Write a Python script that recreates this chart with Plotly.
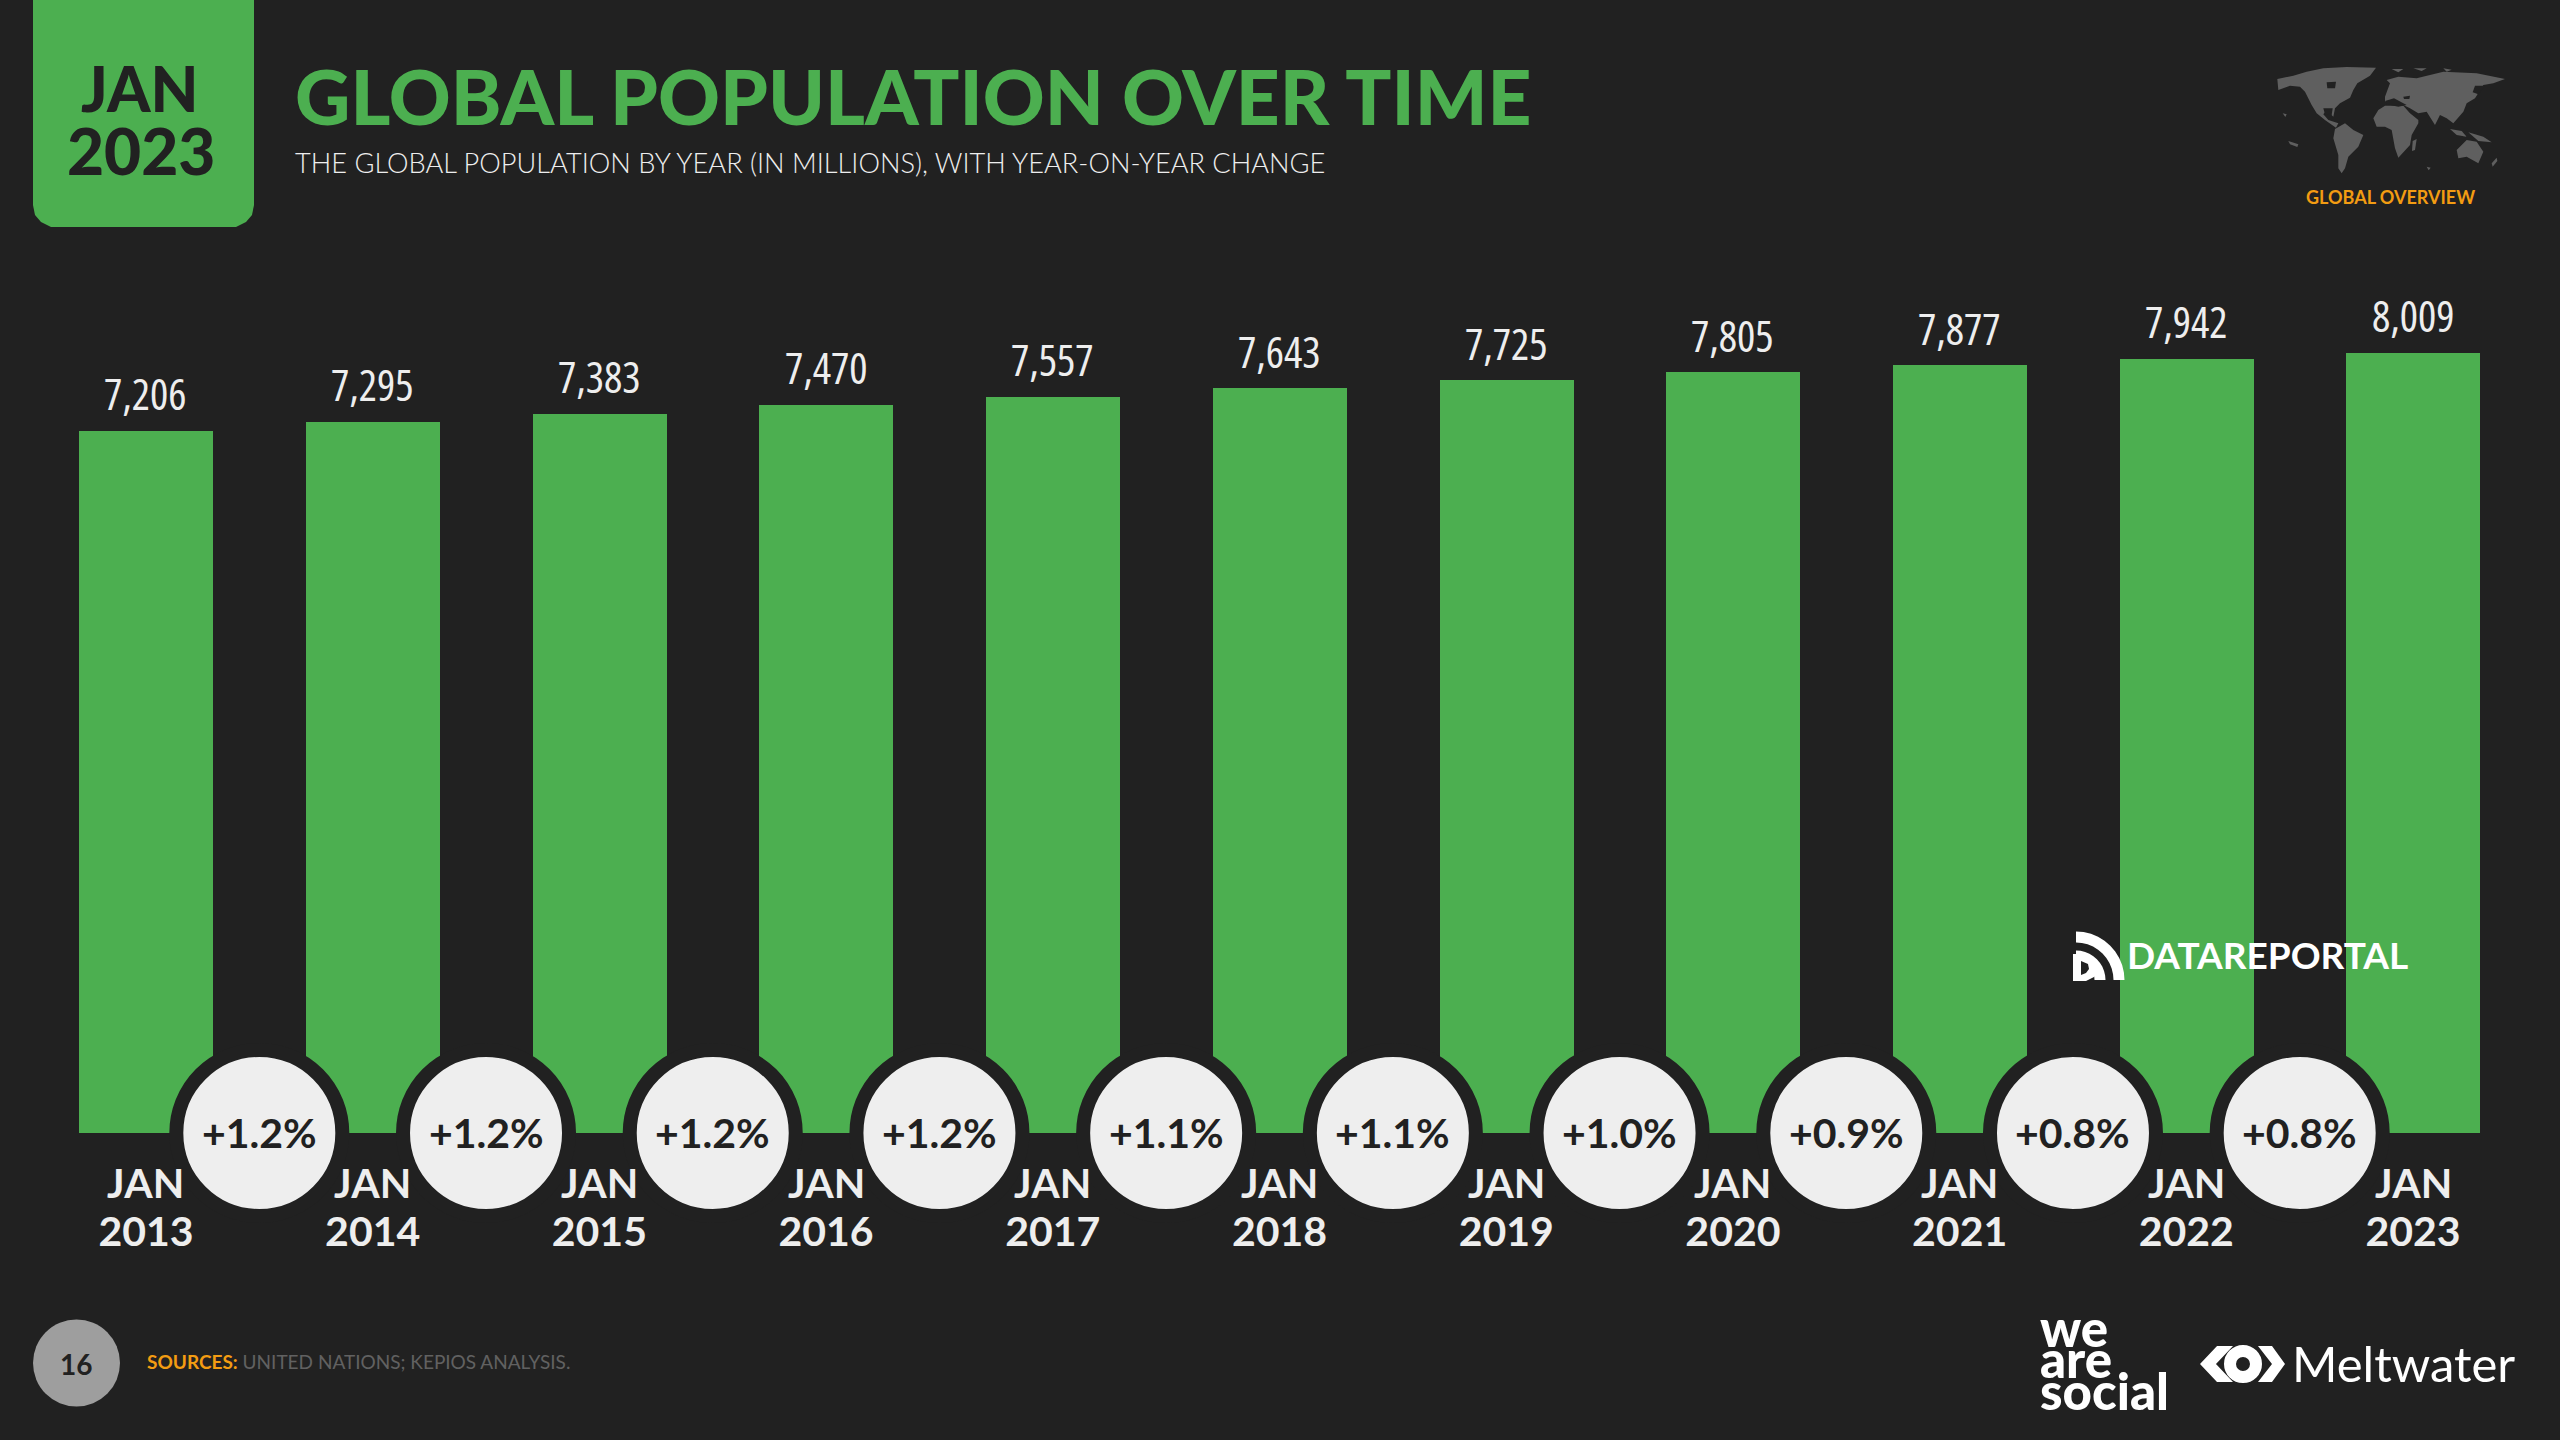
import math
import plotly.graph_objects as go

# Chart data
years = [2013, 2014, 2015, 2016, 2017, 2018, 2019, 2020, 2021, 2022, 2023]
year_labels = ["2013", "2014", "2015", "2016", "2017", "2018", "2019", "2020", "2021", "2022", "2023"]
month_label = "JAN"
population = [7206, 7295, 7383, 7470, 7557, 7643, 7725, 7805, 7877, 7942, 8009]
yoy_change = ["+1.2%", "+1.2%", "+1.2%", "+1.2%", "+1.1%", "+1.1%", "+1.0%", "+0.9%", "+0.8%", "+0.8%"]

W, H = 2560, 1440
BG = "#212121"
GREEN = "#4CAF50"
LIGHT = "#EEEEEE"
ORANGE = "#F39C12"
MAP_GREY = "#5F5F5F"
FONT = "Lato"


def px(x):
    return x / W


def py(y):
    return 1 - y / H


def note(text, x, y, size, color=LIGHT, anchor="left", weight=400, family=FONT):
    return dict(text=text, x=px(x), y=py(y), xref="paper", yref="paper", showarrow=False,
                xanchor=anchor, yanchor="middle", borderpad=0,
                font=dict(family=family, size=size, color=color, weight=weight))


def poly(points, color, ox=0, oy=0, scale=1.0):
    parts = []
    for i, (x, y) in enumerate(points):
        parts.append(("M" if i == 0 else "L") + f"{px(ox + x * scale):.5f},{py(oy + y * scale):.5f}")
    return dict(type="path", xref="paper", yref="paper", path=" ".join(parts) + " Z",
                fillcolor=color, line=dict(width=0))


def circle(cx, cy, r, fill, line_color=None, line_width=0):
    return dict(type="circle", xref="paper", yref="paper", x0=px(cx - r), x1=px(cx + r),
                y0=py(cy + r), y1=py(cy - r), fillcolor=fill,
                line=dict(color=line_color or fill, width=line_width))


def arc(cx, cy, r, width, color):
    # quarter ring used by the datareportal icon
    angles = [i / 10 * math.pi / 2 for i in range(11)]
    outer = [(cx + (r + width / 2) * math.cos(a), cy - (r + width / 2) * math.sin(a)) for a in angles]
    inner = [(cx + (r - width / 2) * math.cos(a), cy - (r - width / 2) * math.sin(a)) for a in reversed(angles)]
    return poly(outer + inner, color)


fig = go.Figure()

fig.add_trace(go.Bar(x=years, y=population, width=0.591, marker=dict(color=GREEN, line=dict(width=0))))

# Year on year bubbles sit half way between the bars, on the baseline
mid_years = [y + 0.5 for y in years[:-1]]
fig.add_trace(go.Scatter(
    x=mid_years, y=[0] * len(yoy_change), mode="markers", cliponaxis=False,
    marker=dict(size=166, color=LIGHT, line=dict(color=BG, width=14)),
))

annotations = []

for x, label in zip(mid_years, yoy_change):
    annotations.append(dict(text=label, x=x, y=0, xref="x", yref="y", showarrow=False,
                            xanchor="center", yanchor="middle", yshift=1, borderpad=0,
                            font=dict(family=FONT, size=41, color=BG, weight=700)))

# Value labels above the bars
for year, value in zip(years, population):
    annotations.append(dict(text=f'<span style="font-stretch:75%">{value:,}</span>', x=year, y=value,
                            xref="x", yref="y", showarrow=False,
                            xanchor="center", yanchor="bottom", yshift=7, borderpad=0,
                            font=dict(family="Open Sans", size=43, color=LIGHT)))

# First line of the date labels, the years are the axis tick labels
for year in years:
    annotations.append(dict(text=month_label, x=year, y=0, xref="x", yref="y", showarrow=False,
                            xanchor="center", yanchor="middle", yshift=-49, borderpad=0,
                            font=dict(family=FONT, size=41, color=LIGHT, weight=700)))

# Header
annotations += [
    note("JAN", 140, 88, 62, BG, "center", 400, "Lato Heavy"),
    note("2023", 141, 151, 64, BG, "center", 400, "Lato Heavy"),
    note("GLOBAL POPULATION OVER TIME", 294, 95, 76.5, GREEN, "left", 400, "Lato Black"),
    note("THE GLOBAL POPULATION BY YEAR (IN MILLIONS), WITH YEAR-ON-YEAR CHANGE", 294, 162, 27.2, LIGHT, "left", 400, "Lato Light"),
    note("GLOBAL OVERVIEW", 2390, 197, 18, ORANGE, "center", 700),
]

# Footer
annotations += [
    note("16", 76, 1364, 28, BG, "center", 700),
    note(f'<b><span style="color:{ORANGE}">SOURCES:</span></b> UNITED NATIONS; KEPIOS ANALYSIS.',
         146, 1361, 19, "#616161"),
    note("DATAREPORTAL", 2126, 954, 37, "#FFFFFF", "left", 700),
    note("we", 2039, 1327, 51, "#FFFFFF", "left", 400, "Lato Black"),
    note("are", 2039, 1358, 51, "#FFFFFF", "left", 400, "Lato Black"),
    note("social", 2039, 1390, 51, "#FFFFFF", "left", 400, "Lato Black"),
    note("Meltwater", 2291, 1363, 49, "#FFFFFF", "left", 400),
]

shapes = []

# Green date badge with rounded lower corners
badge = [(33, 0), (254, 0), (254, 205), (252, 215), (246, 222), (236, 227), (51, 227), (41, 222), (35, 215), (33, 205)]
shapes.append(poly(badge, GREEN))

# Rough world map
MAP = dict(ox=2270, oy=55, scale=1 / 3)
land = [
    [(22, 72), (70, 62), (110, 50), (160, 40), (230, 36), (318, 38), (300, 62), (262, 85), (250, 105), (240, 128),
     (210, 145), (195, 160), (190, 185), (170, 165), (160, 178), (175, 195), (205, 205), (198, 218), (165, 195),
     (140, 175), (125, 150), (105, 110), (90, 95), (60, 92), (25, 105)],
    [(195, 222), (225, 205), (250, 225), (280, 240), (265, 275), (235, 305), (225, 340), (215, 355), (205, 340),
     (205, 300), (190, 250)],
    [(310, 190), (325, 165), (345, 152), (400, 152), (420, 175), (445, 195), (445, 205), (425, 240), (420, 270),
     (385, 308), (375, 280), (365, 225), (345, 215), (320, 215)],
    [(345, 125), (360, 85), (350, 75), (385, 65), (440, 70), (520, 50), (620, 55), (705, 72), (670, 85), (640, 90),
     (615, 130), (590, 145), (580, 170), (550, 205), (530, 190), (510, 180), (495, 210), (470, 170), (445, 175),
     (420, 160), (400, 150), (345, 140)],
    [(560, 285), (590, 255), (620, 260), (640, 290), (625, 325), (590, 305), (565, 310)],
    [(428, 258), (440, 252), (435, 285), (426, 288)],
    [(665, 325), (680, 308), (682, 318), (668, 335)],
    [(365, 42), (400, 42), (385, 52)],
    [(430, 40), (470, 40), (455, 48)],
    [(520, 40), (545, 44), (530, 50)],
    [(540, 222), (575, 228), (590, 245), (560, 240)],
    [(595, 232), (640, 245), (665, 262), (625, 258)],
    [(170, 85), (195, 80), (197, 98), (172, 100)],
    [(38, 175), (50, 178), (46, 186)],
    [(55, 258), (85, 268), (82, 276), (60, 268)],
    [(470, 335), (482, 338), (476, 346)],
]
water = [
    [(345, 138), (372, 130), (410, 150), (385, 155), (350, 148)],
    [(160, 160), (188, 160), (185, 180), (165, 178)],
    [(400, 125), (420, 122), (418, 132), (402, 132)],
    [(170, 82), (198, 80), (195, 100), (172, 100)],
    [(615, 92), (645, 92), (625, 118), (608, 112)],
]
for p in land:
    shapes.append(poly(p, MAP_GREY, **MAP))
for p in water:
    shapes.append(poly(p, BG, **MAP))

# Datareportal icon
shapes.append(arc(2076, 980, 43, 11, "#FFFFFF"))
shapes.append(arc(2076, 980, 24, 11, "#FFFFFF"))
shapes.append(poly([(2073, 954), (2088, 954), (2096, 960), (2098, 969), (2094, 977), (2086, 981), (2073, 981)], "#FFFFFF"))
shapes.append(poly([(2081, 961), (2088, 964), (2089, 969), (2086, 973), (2081, 975)], BG))

# Meltwater icon
shapes.append(poly([(2217, 1346), (2233, 1346), (2216, 1364), (2233, 1382), (2217, 1382), (2200, 1364)], "#FFFFFF"))
shapes.append(poly([(2258, 1346), (2272, 1346), (2285, 1364), (2272, 1382), (2258, 1382), (2272, 1364)], "#FFFFFF"))
shapes.append(circle(2243, 1364, 13, BG, "#FFFFFF", 12))

# Page number bubble
shapes.append(circle(76.5, 1363, 43.5, "#9E9E9E"))

# Annotation text has to stay above the icon shapes, so the badge and bubble go below the traces
for s in shapes:
    s["layer"] = "above"
shapes[0]["layer"] = "below"
shapes[-1]["layer"] = "below"

fig.update_layout(
    width=W, height=H, margin=dict(l=0, r=0, t=0, b=0), autosize=False,
    paper_bgcolor=BG, plot_bgcolor=BG, showlegend=False, bargap=0,
    annotations=annotations, shapes=shapes,
    xaxis=dict(domain=[px(32.6), px(2526.4)], range=[2012.5, 2023.5], tickmode="array", tickvals=years,
               ticktext=year_labels, showgrid=False, zeroline=False, showline=False, ticks="",
               tickfont=dict(family=FONT, size=41, color=LIGHT, weight=700), ticklabelstandoff=71),
    yaxis=dict(domain=[py(1133), py(256.4)], range=[0, 9000], showgrid=False, zeroline=False,
               showline=False, showticklabels=False, ticks=""),
)

fig.write_html("out.html", config=dict(displayModeBar=False),
               post_script="document.body.style.margin='0';document.body.style.background='#212121';")
